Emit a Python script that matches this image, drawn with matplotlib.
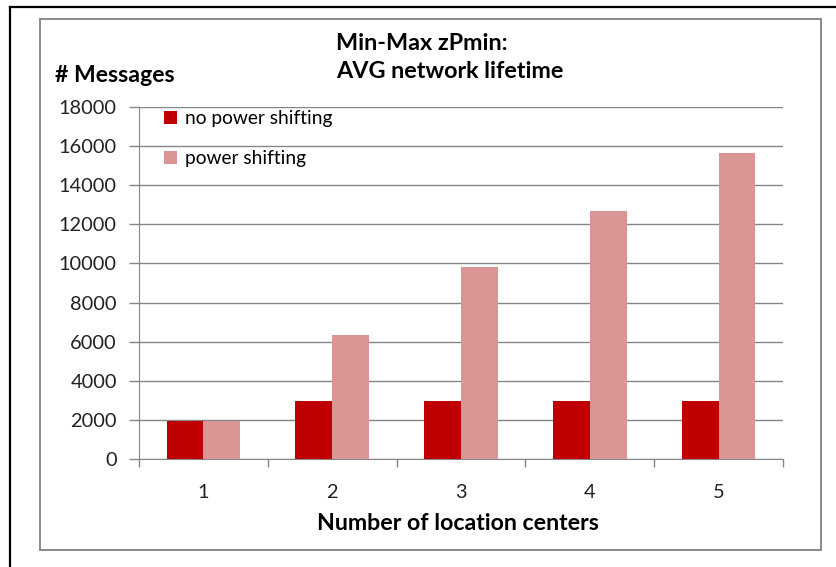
import numpy as np
import matplotlib.pyplot as plt
from matplotlib.patches import Rectangle
from matplotlib.lines import Line2D

centers = ['1', '2', '3', '4', '5']
no_shift = [1920, 2980, 2980, 2980, 2980]
shift = [1920, 6340, 9820, 12700, 15650]
yticks = [0, 2000, 4000, 6000, 8000, 10000, 12000, 14000, 16000, 18000]

plt.rcParams['font.family'] = ['Lato', 'DejaVu Sans']

W, H = 836, 567
fig = plt.figure(figsize=(W / 100, H / 100), dpi=100)

def fx(px):
    return px / W

def fy(py):
    return 1 - py / H

# outer black frame (only top and left visible) and inner gray chart border
fig.add_artist(Line2D([fx(10), fx(10)], [fy(7), 0], color='black', lw=1.6))
fig.add_artist(Line2D([fx(10), 1], [fy(7), fy(7)], color='black', lw=1.6))
fig.add_artist(Rectangle((fx(40), fy(550)), fx(821) - fx(40), fy(19) - fy(550),
                         transform=fig.transFigure, fill=False,
                         edgecolor='#808080', lw=1.3))

ax = fig.add_axes([fx(139), fy(459), fx(783) - fx(139), fy(107) - fy(459)])

x = np.arange(len(centers))
w = 1 / 3.5
ax.bar(x - w / 2, no_shift, w, color='#C00000', label='no power shifting', zorder=3)
ax.bar(x + w / 2, shift, w, color='#D99694', label='power shifting', zorder=3)

ax.set_xlim(-0.5, len(centers) - 0.5)
ax.set_ylim(0, 18000)
ax.set_yticks(yticks)
ax.set_yticklabels([str(v) for v in yticks])
ax.yaxis.grid(True, color='#868686', lw=1)
ax.set_axisbelow(True)

# category labels at group centers, tick marks at boundaries
ax.set_xticks(np.arange(-0.5, len(centers)), minor=False)
ax.set_xticklabels([''] * (len(centers) + 1))
ax.set_xticks(x, minor=True)
ax.set_xticklabels(centers, minor=True)
ax.tick_params(axis='x', which='major', length=6, color='#868686', width=1)
ax.tick_params(axis='x', which='minor', length=0, pad=18, labelsize=14.4, labelcolor='#222222')
ax.tick_params(axis='y', length=7, color='#868686', width=1, labelsize=14.4,
               labelcolor='#222222', pad=9)

for s in ['top', 'right']:
    ax.spines[s].set_visible(False)
for s in ['left', 'bottom']:
    ax.spines[s].set_color('#868686')

leg = ax.legend(loc='upper left', bbox_to_anchor=(0.012, 1.04), frameon=False,
                fontsize=13.8, handlelength=0.7, handleheight=0.7,
                handletextpad=0.4, labelspacing=1.2)

fig.text(fx(336), fy(44), 'Min-Max zPmin:', fontsize=16.8,
         fontweight='bold', ha='left', va='center')
fig.text(fx(336), fy(72), 'AVG network lifetime', fontsize=16.8,
         fontweight='bold', ha='left', va='center')
fig.text(fx(55), fy(76), '# Messages', fontsize=16.6, fontweight='bold',
         ha='left', va='center')
fig.text(fx(458), fy(523), 'Number of location centers', fontsize=16.7,
         fontweight='bold', ha='center', va='center')

fig.savefig('out.png', dpi=100)
